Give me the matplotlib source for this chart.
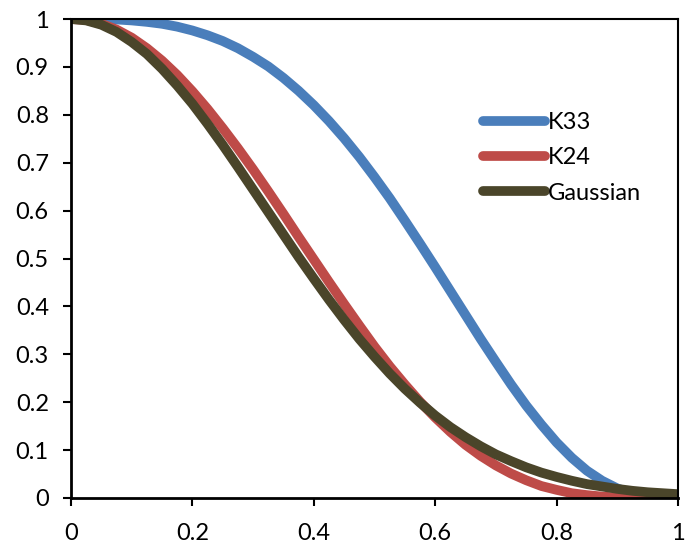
import matplotlib
matplotlib.use("Agg")
import matplotlib.pyplot as plt
from matplotlib.ticker import FormatStrFormatter

plt.rcParams["font.family"] = ["Lato", "DejaVu Sans"]

# values, step 0.025
x = [0.000, 0.025, 0.050, 0.075, 0.100, 0.125, 0.150, 0.175, 0.200, 0.225,
     0.250, 0.275, 0.300, 0.325, 0.350, 0.375, 0.400, 0.425, 0.450, 0.475,
     0.500, 0.525, 0.550, 0.575, 0.600, 0.625, 0.650, 0.675, 0.700, 0.725,
     0.750, 0.775, 0.800, 0.825, 0.850, 0.875, 0.900, 0.925, 0.950, 0.975, 1.000]
k33 = [1.000, 1.000, 1.000, 0.999, 0.997, 0.994, 0.990, 0.984, 0.976, 0.966,
       0.954, 0.939, 0.921, 0.901, 0.877, 0.850, 0.820, 0.787, 0.751, 0.712,
       0.670, 0.626, 0.579, 0.531, 0.482, 0.432, 0.382, 0.332, 0.284, 0.237,
       0.193, 0.153, 0.116, 0.084, 0.057, 0.036, 0.020, 0.009, 0.003, 0.000, 0.000]
k24 = [1.000, 0.998, 0.990, 0.978, 0.961, 0.939, 0.913, 0.883, 0.849, 0.812,
       0.772, 0.730, 0.686, 0.640, 0.593, 0.545, 0.498, 0.451, 0.405, 0.360,
       0.316, 0.275, 0.237, 0.201, 0.168, 0.138, 0.111, 0.088, 0.068, 0.051,
       0.037, 0.025, 0.017, 0.010, 0.006, 0.003, 0.001, 0.000, 0.000, 0.000, 0.000]
gauss = [1.000, 0.997, 0.988, 0.973, 0.952, 0.927, 0.896, 0.861, 0.823, 0.781,
         0.737, 0.691, 0.644, 0.597, 0.550, 0.503, 0.458, 0.414, 0.372, 0.332,
         0.295, 0.260, 0.228, 0.199, 0.172, 0.148, 0.127, 0.108, 0.091, 0.077,
         0.064, 0.053, 0.044, 0.036, 0.029, 0.024, 0.019, 0.015, 0.012, 0.010, 0.008]

series = [("K33", k33, "#4A7EBB"), ("K24", k24, "#BE4B48"), ("Gaussian", gauss, "#4A452A")]

fig = plt.figure(figsize=(6.86, 5.53), dpi=100)
ax = fig.add_axes([71 / 686, 55 / 553, 607 / 686, 479 / 553])

for name, y, c in series:
    ax.plot(x, y, color=c, lw=7, solid_capstyle="round", solid_joinstyle="round", label=name)

ax.set_xlim(0, 1)
ax.set_ylim(0, 1)
ax.set_xticks([0, 0.2, 0.4, 0.6, 0.8, 1.0])
ax.set_yticks([i / 10 for i in range(11)])
ax.xaxis.set_major_formatter(FormatStrFormatter("%g"))
ax.yaxis.set_major_formatter(FormatStrFormatter("%g"))
ax.tick_params(direction="out", length=6, width=1.5, labelsize=17, pad=10, colors="black")
ax.tick_params(axis="x", pad=12)

for s in ax.spines.values():
    s.set_linewidth(1.5)
    s.set_color("black")
ax.spines["left"].set_linewidth(2)
ax.spines["bottom"].set_linewidth(2)

ax.legend(loc="upper left", bbox_to_anchor=(0.66, 0.83), frameon=False, fontsize=17,
          handlelength=2.6, handletextpad=0.15, labelspacing=0.6, borderpad=0)

fig.savefig("out.png", dpi=100)
